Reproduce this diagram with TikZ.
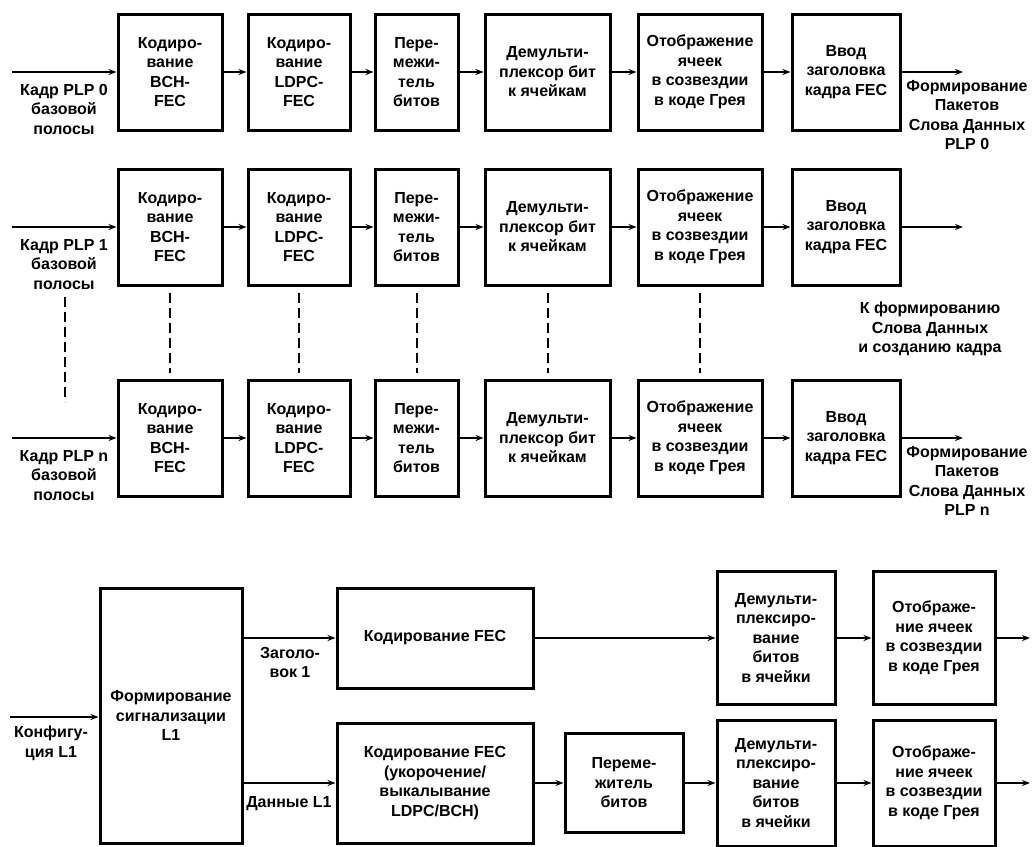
\documentclass[tikz,border=0pt]{standalone}
\usepackage{fontspec}
\setmainfont{Liberation Sans}
\usetikzlibrary{arrows.meta,positioning}

\begin{document}
\begin{tikzpicture}[x=1pt,y=-1pt,>={Stealth[length=8pt,width=6pt]},
  font=\bfseries\fontsize{16}{19.5}\selectfont,
  blk/.style={draw,line width=3pt,align=center,inner sep=1pt},
  lbl/.style={align=center,inner sep=0pt},
  conn/.style={->,line width=2pt},
  dsh/.style={line width=2pt,dash pattern=on 10pt off 5pt}]
  \useasboundingbox (0,0) rectangle (1035,846);

  % three PLP chains
  \foreach \r/\y in {0/72,1/227,n/438}{
    \node[blk,minimum width=104,minimum height=116] (bch\r) at (170,\y) {Кодиро-\\вание\\BCH-\\FEC};
    \node[blk,minimum width=102,minimum height=116] (ldpc\r) at (299,\y) {Кодиро-\\вание\\LDPC-\\FEC};
    \node[blk,minimum width=83,minimum height=116] (bil\r) at (416.5,\y) {Пере-\\межи-\\тель\\битов};
    \node[blk,minimum width=125,minimum height=116] (dmx\r) at (547.5,\y) {Демульти-\\плексор бит\\к ячейкам};
    \node[blk,minimum width=124,minimum height=116] (map\r) at (700,\y) {Отображение\\ячеек\\в созвездии\\в коде Грея};
    \node[blk,minimum width=108,minimum height=116] (hdr\r) at (846,\y) {Ввод\\заголовка\\кадра FEC};
    \coordinate (in\r) at (12,\y);
    \coordinate (out\r) at (963,\y);
    \node[lbl,anchor=north] (cap\r) at (64,\y+12) {Кадр PLP \r\\базовой\\полосы};
    \draw[conn] (in\r) -- (bch\r);
    \draw[conn] (bch\r) -- (ldpc\r);
    \draw[conn] (ldpc\r) -- (bil\r);
    \draw[conn] (bil\r) -- (dmx\r);
    \draw[conn] (dmx\r) -- (map\r);
    \draw[conn] (map\r) -- (hdr\r);
    \draw[conn] (hdr\r) -- (out\r);
  }
  \node[lbl,anchor=north] (pkt0) at (967,80) {Формирование\\Пакетов\\Слова Данных\\PLP 0};
  \node[lbl,anchor=north] (pktn) at (967,446) {Формирование\\Пакетов\\Слова Данных\\PLP n};
  \node[lbl,anchor=north] (tofrm) at (930,302) {К формированию\\Слова Данных\\и созданию кадра};

  % dots between rows
  \foreach \k in {bch,ldpc,bil,dmx,map}
    \draw[dsh,shorten <=6pt,shorten >=6pt] (\k1.south) -- (\k n.north);
  \coordinate (d1) at (65,297);
  \coordinate (d2) at (65,402);
  \draw[dsh,line width=2.6pt] (d1) -- (d2);

  % L1 signalling
  \node[blk,minimum width=142,minimum height=255] (sig) at (171,715.5) {Формирование\\сигнализации\\L1};
  \node[blk,minimum width=196,minimum height=100] (fec1) at (435,638) {Кодирование FEC};
  \node[blk,minimum width=196,minimum height=120] (fec2) at (435,783) {Кодирование FEC\\(укорочение/\\выкалывание\\LDPC/BCH)};
  \node[blk,minimum width=118,minimum height=99] (bilL) at (624,783) {Переме-\\житель\\битов};
  \node[blk,minimum width=118,minimum height=133] (dmxA) at (776,638) {Демульти-\\плексиро-\\вание\\битов\\в ячейки};
  \node[blk,minimum width=118,minimum height=126] (dmxB) at (776,783) {Демульти-\\плексиро-\\вание\\битов\\в ячейки};
  \node[blk,minimum width=122,minimum height=133] (mapA) at (934,638) {Отображе-\\ние ячеек\\в созвездии\\в коде Грея};
  \node[blk,minimum width=122,minimum height=126] (mapB) at (934,783) {Отображе-\\ние ячеек\\в созвездии\\в коде Грея};
  \coordinate (cfg) at (10,717);
  \coordinate (outA) at (1030,638);
  \coordinate (outB) at (1030,783);
  \node[lbl,anchor=north] (cfgtxt) at (51,726) {Конфигу-\\ция L1};
  \node[lbl,anchor=north] (hdrtxt) at (290,647) {Заголо-\\вок 1};
  \node[lbl,anchor=north] (dattxt) at (289,796) {Данные L1};

  \draw[conn] (cfg) -- (cfg -| sig.west);
  \draw[conn] (sig.east |- fec1) -- (fec1);
  \draw[conn] (sig.east |- fec2) -- (fec2);
  \draw[conn] (fec1) -- (dmxA);
  \draw[conn] (fec2) -- (bilL);
  \draw[conn] (bilL) -- (dmxB);
  \draw[conn] (dmxA) -- (mapA);
  \draw[conn] (dmxB) -- (mapB);
  \draw[conn] (mapA) -- (outA);
  \draw[conn] (mapB) -- (outB);
\end{tikzpicture}
\end{document}
